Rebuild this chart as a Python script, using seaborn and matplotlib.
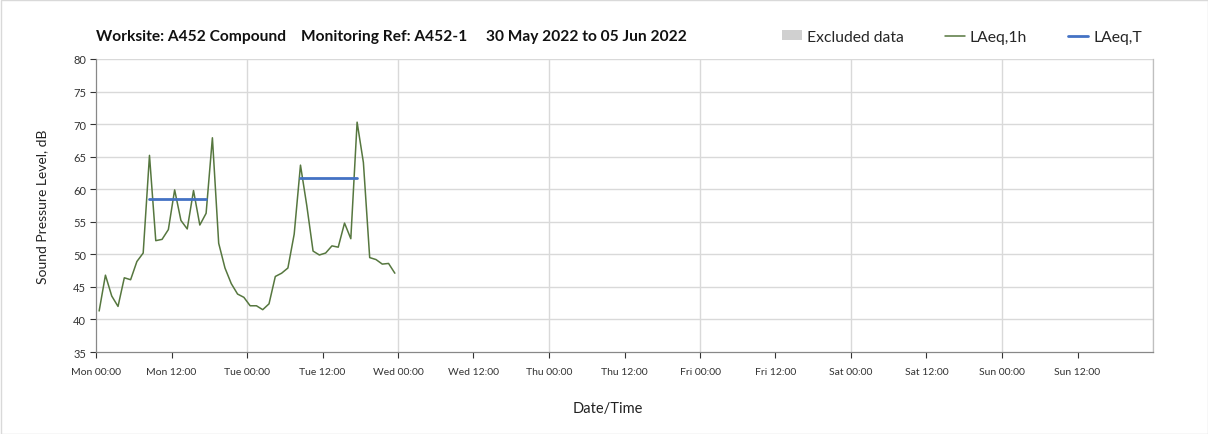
import numpy as np
import pandas as pd
import matplotlib
matplotlib.use("Agg")
import matplotlib.pyplot as plt
import seaborn as sns
from matplotlib.patches import Rectangle
from matplotlib.lines import Line2D
from matplotlib.patches import Patch

# ---- data ----
hours = [h + 0.5 for h in range(48)]
laeq_1h = [41.3, 46.8, 43.6, 42.0, 46.4, 46.1, 48.9, 50.2, 65.2, 52.1, 52.3, 53.8,
           59.9, 55.2, 53.9, 59.8, 54.5, 56.3, 67.9, 51.7, 47.9, 45.5, 43.9, 43.4,
           42.1, 42.1, 41.5, 42.4, 46.6, 47.1, 47.9, 53.1, 63.7, 57.5, 50.5, 49.9,
           50.2, 51.3, 51.1, 54.8, 52.4, 70.3, 64.1, 49.5, 49.2, 48.5, 48.6, 47.1]
laeq_t_start = [8.5, 32.5]
laeq_t_end = [17.5, 41.5]
laeq_t_value = [58.5, 61.7]
tick_labels = ["Mon 00:00", "Mon 12:00", "Tue 00:00", "Tue 12:00", "Wed 00:00",
               "Wed 12:00", "Thu 00:00", "Thu 12:00", "Fri 00:00", "Fri 12:00",
               "Sat 00:00", "Sat 12:00", "Sun 00:00", "Sun 12:00"]
title = "Worksite: A452 Compound    Monitoring Ref: A452-1     30 May 2022 to 05 Jun 2022"

sns.set_style("white")
plt.rcParams['font.family'] = ['Lato', 'DejaVu Sans']

fig = plt.figure(figsize=(12.08, 4.35), dpi=100)
ax = fig.add_axes([96/1208, 1-353/435, (1153-96)/1208, (353-60)/435])

df = pd.DataFrame({"hour": hours, "LAeq,1h": laeq_1h})
sns.lineplot(data=df, x="hour", y="LAeq,1h", ax=ax, color="#56773f", linewidth=1.1)

for s, e, v in zip(laeq_t_start, laeq_t_end, laeq_t_value):
    sns.lineplot(x=[s, e], y=[v, v], ax=ax, color="#4472c4", linewidth=2.0)

ax.set_xlim(0, 168)
ax.set_ylim(35, 80)
ax.set_yticks(np.arange(35, 81, 5))
ax.set_xticks(np.arange(0, 168, 12))
ax.set_xticklabels(tick_labels, fontsize=7.5, color="#333333")
ax.tick_params(axis="y", labelsize=8, colors="#333333", length=4, width=0.8,
               direction="out", left=True, pad=3)
ax.tick_params(axis="x", length=4, width=0.8, direction="out", bottom=True,
               colors="#333333", pad=7)
for t in ax.get_xticklines() + ax.get_yticklines():
    t.set_color("#888888")

# grid
for y in np.arange(40, 81, 5):
    ax.axhline(y, color="#d9d9d9", linewidth=1.0, zorder=0)
for x in np.arange(24, 169, 24):
    ax.axvline(x, color="#d9d9d9", linewidth=1.0, zorder=0)

ax.spines["top"].set_visible(False)
ax.spines["right"].set_color("#bfbfbf")
ax.spines["left"].set_color("#888888")
ax.spines["bottom"].set_color("#888888")
for sp in ax.spines.values():
    sp.set_linewidth(0.9)

ax.set_xlabel("")
ax.set_ylabel("Sound Pressure Level, dB", fontsize=10, color="#222222", labelpad=18)
fig.text(0.503, 1-409/435, "Date/Time", ha="center", va="center", fontsize=10.5, color="#222222")

fig.text(96/1208, 1-37/435, title, ha="left", va="center", fontsize=11.2, fontweight="bold",
         color="#111111")

handles = [Patch(facecolor="#d0d0d0", edgecolor="none"),
           Line2D([0], [0], color="#56773f", linewidth=1.1),
           Line2D([0], [0], color="#4472c4", linewidth=2.0)]
labels = ["Excluded data", "LAeq,1h", "LAeq,T"]
fig.legend(handles, labels, loc="center left", bbox_to_anchor=(782/1208, 1-38/435),
           ncol=3, frameon=False, fontsize=11.3, handlelength=1.3, handletextpad=0.3,
           columnspacing=2.6, handleheight=0.6, borderpad=0, borderaxespad=0)

fig.patches.append(Rectangle((0.5/1208, 0.5/435), 1-1/1208, 1-1/435, transform=fig.transFigure,
                             fill=False, edgecolor="#d9d9d9", linewidth=1.0))

fig.savefig("out.png", dpi=100)
